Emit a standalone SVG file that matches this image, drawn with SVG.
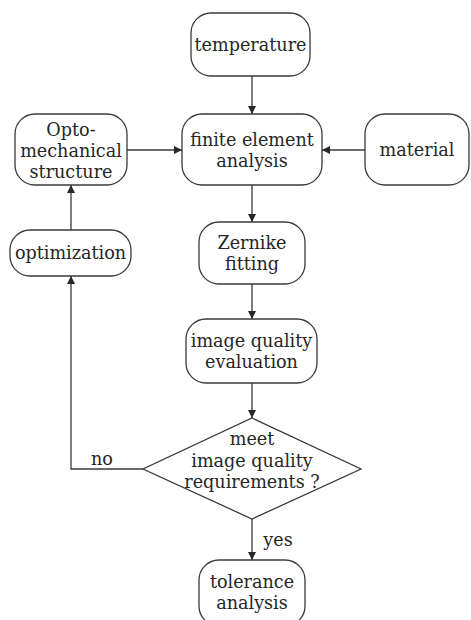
<svg xmlns="http://www.w3.org/2000/svg" width="471" height="620" viewBox="0 0 471 620">
  <style>
    .box { fill: #ffffff; stroke: #3a3a3a; stroke-width: 1.3; }
    .wire { fill: none; stroke: #3a3a3a; stroke-width: 1.3; }
    text { font-family: "DejaVu Serif", "Liberation Serif", serif; font-size: 17.6px; fill: #262626; text-anchor: middle; }
  </style>
  <defs>
    <marker id="arrow" viewBox="0 0 10 10" refX="10" refY="5" markerWidth="8" markerHeight="8" markerUnits="userSpaceOnUse" orient="auto">
      <path d="M0,0 L10,5 L0,10 z" fill="#262626"/>
    </marker>
  </defs>
  <rect width="471" height="620" fill="#ffffff"/>

  <g id="connectors">
    <line class="wire" x1="252" y1="76" x2="252" y2="114" marker-end="url(#arrow)"/>
    <line class="wire" x1="127" y1="150" x2="182" y2="150" marker-end="url(#arrow)"/>
    <line class="wire" x1="365" y1="150" x2="322" y2="150" marker-end="url(#arrow)"/>
    <line class="wire" x1="252" y1="185" x2="252" y2="222" marker-end="url(#arrow)"/>
    <line class="wire" x1="252" y1="284" x2="252" y2="319" marker-end="url(#arrow)"/>
    <line class="wire" x1="252" y1="383" x2="252" y2="418" marker-end="url(#arrow)"/>
    <line class="wire" x1="252" y1="519" x2="252" y2="560" marker-end="url(#arrow)"/>
    <polyline class="wire" points="143,469 71,469 71,276" marker-end="url(#arrow)"/>
    <line class="wire" x1="71" y1="230" x2="71" y2="185" marker-end="url(#arrow)"/>
    <text x="102" y="465">no</text>
    <text x="278" y="546">yes</text>
  </g>

  <g id="temperature">
    <rect class="box" x="191" y="13" width="119" height="63" rx="20"/>
    <text x="250.5" y="51">temperature</text>
  </g>

  <g id="fea">
    <rect class="box" x="182" y="114" width="140" height="71" rx="20"/>
    <text x="252" y="146">finite element</text>
    <text x="252" y="167">analysis</text>
  </g>

  <g id="opto">
    <rect class="box" x="15" y="114" width="112" height="71" rx="20"/>
    <text x="71" y="136">Opto-</text>
    <text x="71" y="157">mechanical</text>
    <text x="71" y="178">structure</text>
  </g>

  <g id="material">
    <rect class="box" x="365" y="114" width="104" height="71" rx="20"/>
    <text x="417" y="156">material</text>
  </g>

  <g id="optimization">
    <rect class="box" x="10" y="230" width="121" height="46" rx="20"/>
    <text x="70.5" y="259">optimization</text>
  </g>

  <g id="zernike">
    <rect class="box" x="199" y="222" width="106" height="62" rx="20"/>
    <text x="252" y="249">Zernike</text>
    <text x="252" y="270">fitting</text>
  </g>

  <g id="evaluation">
    <rect class="box" x="186" y="319" width="131" height="64" rx="20"/>
    <text x="251.5" y="346.5">image quality</text>
    <text x="251.5" y="367.5">evaluation</text>
  </g>

  <g id="decision">
    <polygon class="box" points="252,418 361,469 252,519 143,469"/>
    <text x="252" y="445">meet</text>
    <text x="252" y="466.5">image quality</text>
    <text x="252" y="488">requirements ?</text>
  </g>

  <g id="tolerance">
    <rect class="box" x="199" y="560" width="106" height="66" rx="20"/>
    <text x="252" y="588">tolerance</text>
    <text x="252" y="609">analysis</text>
  </g>
</svg>
